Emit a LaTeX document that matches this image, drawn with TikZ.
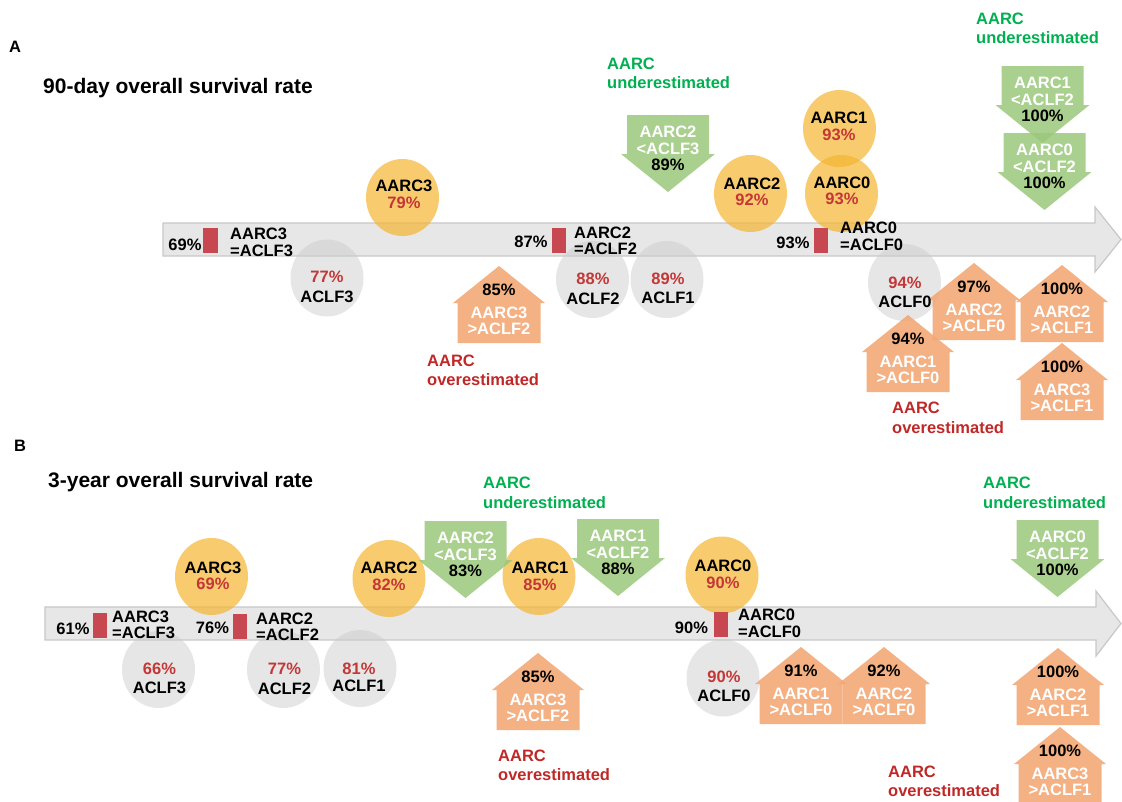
\documentclass[tikz,border=0pt]{standalone}
\usepackage{fontspec}
\setmainfont{Liberation Sans}
\usetikzlibrary{shapes.geometric}
\definecolor{barfill}{RGB}{231,231,231}
\definecolor{barline}{RGB}{200,200,200}
\definecolor{yel}{RGB}{244,181,48}
\definecolor{gry}{RGB}{205,205,205}
\definecolor{rectred}{RGB}{200,72,82}
\definecolor{gfill}{RGB}{154,200,122}
\definecolor{ofill}{RGB}{243,168,118}
\definecolor{gtext}{RGB}{0,176,80}
\definecolor{rtext}{RGB}{192,40,40}
\definecolor{pred}{RGB}{196,55,55}
\newcommand\whtxt[1]{\textcolor{white}{#1}}
\newcommand\redpc[1]{\textcolor{pred}{#1}}
\newcommand\garrow[2]{%
  \fill[gshape] ({#1-41},{#2}) -- ({#1+41},{#2}) -- ({#1+41},{#2+39}) -- ({#1+47},{#2+39})
    -- ({#1},{#2+77}) -- ({#1-47},{#2+39}) -- ({#1-41},{#2+39}) -- cycle;}
\newcommand\oarrow[2]{%
  \fill[oshape] ({#1},{#2}) -- ({#1+46},{#2+37}) -- ({#1+41.5},{#2+37}) -- ({#1+41.5},{#2+77})
    -- ({#1-41.5},{#2+77}) -- ({#1-41.5},{#2+37}) -- ({#1-46},{#2+37}) -- cycle;}
\begin{document}
\begin{tikzpicture}[x=1pt,y=-1pt,
  txt/.style={font=\bfseries\fontsize{16.5}{16.5}\selectfont, align=center, inner sep=0pt, text=black},
  eqtxt/.style={txt, align=left, anchor=west},
  lbl/.style={font=\bfseries\fontsize{16.5}{19.5}\selectfont, align=left, anchor=west, inner sep=0pt},
  ttl/.style={font=\bfseries\fontsize{21}{21}\selectfont, anchor=west, inner sep=0pt},
  ycirc/.style={ellipse, fill=yel, fill opacity=0.7, minimum width=73pt, minimum height=77pt, inner sep=0pt},
  gcirc/.style={ellipse, fill=gry, fill opacity=0.5, minimum width=73pt, minimum height=77pt, inner sep=0pt},
  rrect/.style={rectangle, fill=rectred, minimum width=14.5pt, minimum height=25pt, inner sep=0pt},
  bar/.style={fill=barfill, draw=barline, line width=1.2pt},
  gshape/.style={fill=gfill, fill opacity=0.85},
  oshape/.style={fill=ofill, fill opacity=0.9}]
\useasboundingbox (0,0) rectangle (1122,801);

% ================= Panel A =================
\node[txt] (labA) at (15,47) {A};
\node[ttl] (titA) at (43,88) {90-day overall survival rate};
\draw[bar] (163,223) -- (1095,223) -- (1095,207) -- (1121,239.5) -- (1095,272) -- (1095,256) -- (163,256) -- cycle;

\node[gcirc] (cA3) at (327,278) {};
\node[gcirc] (cA2) at (592.5,279.5) {};
\node[gcirc] (cA1) at (667,279.5) {};
\node[gcirc] (cA0) at (904.5,282.5) {};
\node[ycirc] (yA3) at (402.5,197.5) {};
\node[ycirc] (yA2) at (750.5,193.5) {};
\node[ycirc] (yA1) at (839.5,128.5) {};
\node[ycirc] (yA0) at (841.5,193.5) {};
\node[rrect] (rA3) at (210.5,240.5) {};
\node[rrect] (rA2) at (559,240.5) {};
\node[rrect] (rA0) at (821,240.5) {};

\garrow{668}{115}
\garrow{1042.5}{66}
\garrow{1044.5}{133}
\oarrow{499}{266}
\oarrow{974}{263}
\oarrow{1062}{265}
\oarrow{908}{315}
\oarrow{1062}{343}

\node[txt] (tyA3) at (404,194.5) {AARC3\\\redpc{79\%}};
\node[txt] (tyA2) at (752,192) {AARC2\\\redpc{92\%}};
\node[txt] (tyA1) at (839,126.5) {AARC1\\\redpc{93\%}};
\node[txt] (tyA0) at (842,191) {AARC0\\\redpc{93\%}};
\node[txt] (tgA3) at (327,287) {\redpc{77\%}\\[3.5pt]ACLF3};
\node[txt] (tgA2) at (593,289) {\redpc{88\%}\\[3.5pt]ACLF2};
\node[txt] (tgA1) at (668,288.5) {\redpc{89\%}\\[3pt]ACLF1};
\node[txt] (tgA0) at (905,292.5) {\redpc{94\%}\\[3pt]ACLF0};

\node[txt] (pA3) at (185,245) {69\%};
\node[txt] (pA2) at (531,242) {87\%};
\node[txt] (pA0) at (793,243) {93\%};
\node[eqtxt] (eA3) at (230,242.5) {AARC3\\=ACLF3};
\node[eqtxt] (eA2) at (574,241) {AARC2\\=ACLF2};
\node[eqtxt] (eA0) at (840,236.5) {AARC0\\=ACLF0};

\node[txt] (gA1) at (668,148.5) {\whtxt{AARC2}\\\whtxt{<ACLF3}\\89\%};
\node[txt] (gA2) at (1042.5,99.5) {\whtxt{AARC1}\\\whtxt{<ACLF2}\\100\%};
\node[txt] (gA3) at (1044.5,166.5) {\whtxt{AARC0}\\\whtxt{<ACLF2}\\100\%};

\node[txt] (oA1) at (499,309.5) {85\%\\[6.5pt]\whtxt{AARC3}\\\whtxt{>ACLF2}};
\node[txt] (oA2) at (974,306.5) {97\%\\[6.5pt]\whtxt{AARC2}\\\whtxt{>ACLF0}};
\node[txt] (oA3) at (1062,308.5) {100\%\\[6.5pt]\whtxt{AARC2}\\\whtxt{>ACLF1}};
\node[txt] (oA4) at (908,358.5) {94\%\\[6.5pt]\whtxt{AARC1}\\\whtxt{>ACLF0}};
\node[txt] (oA5) at (1062,386.5) {100\%\\[6.5pt]\whtxt{AARC3}\\\whtxt{>ACLF1}};

\node[lbl, text=gtext] (uA1) at (607,73.5) {AARC\\underestimated};
\node[lbl, text=gtext] (uA2) at (976,28.5) {AARC\\underestimated};
\node[lbl, text=rtext] (vA1) at (427,370.5) {AARC\\overestimated};
\node[lbl, text=rtext] (vA2) at (892,418) {AARC\\overestimated};

% ================= Panel B =================
\node[txt] (labB) at (20,446) {B};
\node[ttl] (titB) at (48,482) {3-year overall survival rate};
\draw[bar] (45,607) -- (1096,607) -- (1096,591) -- (1121,623.5) -- (1096,656) -- (1096,640) -- (45,640) -- cycle;

\node[gcirc] (cB3) at (158.5,669.5) {};
\node[gcirc] (cB2) at (283.5,669.5) {};
\node[gcirc] (cB1) at (360,668.5) {};
\node[gcirc] (cB0) at (723,678) {};
\node[ycirc] (yB3) at (211.5,576.5) {};
\node[ycirc] (yB2) at (389,578.5) {};
\node[ycirc] (yB1) at (539,576.5) {};
\node[ycirc] (yB0) at (722,575) {};
\node[rrect] (rB3) at (100,625) {};
\node[rrect] (rB2) at (240,626.5) {};
\node[rrect] (rB0) at (721,624.5) {};

\garrow{465.5}{521}
\garrow{618}{519}
\garrow{1057.5}{520}
\oarrow{538}{653}
\oarrow{801}{647}
\oarrow{884}{647}
\oarrow{1058}{648}
\oarrow{1060}{727}

\node[txt] (tyB3) at (213,576) {AARC3\\\redpc{69\%}};
\node[txt] (tyB2) at (389,576.5) {AARC2\\\redpc{82\%}};
\node[txt] (tyB1) at (540,576.5) {AARC1\\\redpc{85\%}};
\node[txt] (tyB0) at (723,574.5) {AARC0\\\redpc{90\%}};
\node[txt] (tgB3) at (159.5,678.5) {\redpc{66\%}\\[2.5pt]ACLF3};
\node[txt] (tgB2) at (284.5,679) {\redpc{77\%}\\[3.5pt]ACLF2};
\node[txt] (tgB1) at (359,677.5) {\redpc{81\%}\\[1pt]ACLF1};
\node[txt] (tgB0) at (724,686.5) {\redpc{90\%}\\[2.5pt]ACLF0};

\node[txt] (pB3) at (73,629) {61\%};
\node[txt] (pB2) at (212.5,628) {76\%};
\node[txt] (pB0) at (691.5,628) {90\%};
\node[eqtxt] (eB3) at (112,625) {AARC3\\=ACLF3};
\node[eqtxt] (eB2) at (256,627) {AARC2\\=ACLF2};
\node[eqtxt] (eB0) at (738,623.5) {AARC0\\=ACLF0};

\node[txt] (gB1) at (465.5,554.5) {\whtxt{AARC2}\\\whtxt{<ACLF3}\\83\%};
\node[txt] (gB2) at (618,552.5) {\whtxt{AARC1}\\\whtxt{<ACLF2}\\88\%};
\node[txt] (gB3) at (1057.5,553.5) {\whtxt{AARC0}\\\whtxt{<ACLF2}\\100\%};

\node[txt] (oB1) at (538,696.5) {85\%\\[6.5pt]\whtxt{AARC3}\\\whtxt{>ACLF2}};
\node[txt] (oB2) at (801,690.5) {91\%\\[6.5pt]\whtxt{AARC1}\\\whtxt{>ACLF0}};
\node[txt] (oB3) at (884,690.5) {92\%\\[6.5pt]\whtxt{AARC2}\\\whtxt{>ACLF0}};
\node[txt] (oB4) at (1058,691.5) {100\%\\[6.5pt]\whtxt{AARC2}\\\whtxt{>ACLF1}};
\node[txt] (oB5) at (1060,770.5) {100\%\\[6.5pt]\whtxt{AARC3}\\\whtxt{>ACLF1}};

\node[lbl, text=gtext] (uB1) at (483,493) {AARC\\underestimated};
\node[lbl, text=gtext] (uB2) at (983,493) {AARC\\underestimated};
\node[lbl, text=rtext] (vB1) at (498,765.5) {AARC\\overestimated};
\node[lbl, text=rtext] (vB2) at (888,781.5) {AARC\\overestimated};
\end{tikzpicture}
\end{document}
